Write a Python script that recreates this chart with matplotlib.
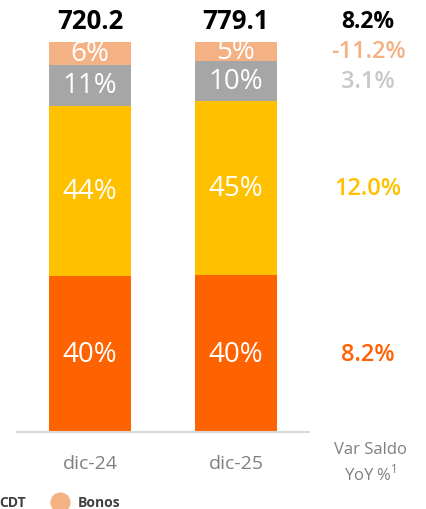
import matplotlib
matplotlib.use('Agg')
import matplotlib.pyplot as plt
from matplotlib.lines import Line2D

plt.rcParams['font.family'] = ['Open Sans', 'DejaVu Sans']
plt.rcParams['mathtext.fontset'] = 'custom'
plt.rcParams['mathtext.rm'] = 'Open Sans'

PERIODS = ['dic-24', 'dic-25']
SERIES = ['Ahorros', 'Corriente', 'CDT', 'Bonos']  # bottom -> top
COLORS = {'Ahorros': '#FF6200', 'Corriente': '#FFC000', 'CDT': '#A6A6A6', 'Bonos': '#F4B183'}
VAR_COLORS = {'Ahorros': '#FF6200', 'Corriente': '#FFC000', 'CDT': '#C8C8C8', 'Bonos': '#F4B183'}
SHARE = {  # % of total balance, per period
    'Ahorros': [40.0, 40.2],
    'Corriente': [43.6, 44.8],
    'CDT': [10.6, 10.2],
    'Bonos': [5.8, 4.8],
}
TOTALS = [720.2, 779.1]
VAR_TOTAL = 8.2
VAR = {'Ahorros': 8.2, 'Corriente': 12.0, 'CDT': 3.1, 'Bonos': -11.2}

W, H = 426, 510
fig = plt.figure(figsize=(W / 100, H / 100), dpi=100)
ax = fig.add_axes([17 / W, (H - 433) / H, 292 / W, 390 / H])

x = list(range(len(PERIODS)))
bottom = [0.0, 0.0]
for s in SERIES:
    ax.bar(x, SHARE[s], bottom=bottom, width=0.555, color=COLORS[s], zorder=2)
    for i in x:
        ax.text(i, bottom[i] + SHARE[s][i] / 2, '%d%%' % round(SHARE[s][i]),
                ha='center', va='center', color='white', fontsize=20,
                fontweight='medium', zorder=3)
    bottom = [b + v for b, v in zip(bottom, SHARE[s])]

# totals on top
for i in x:
    ax.text(i, 105.4, '%.1f' % TOTALS[i], ha='center', va='center',
            fontsize=18.5, fontweight='bold', color='black', clip_on=False)

# YoY variation column
xv = 1.905
ax.text(xv, 105.4, '%.1f%%' % VAR_TOTAL, ha='center', va='center',
        fontsize=16.5, fontweight='bold', color='black', clip_on=False)
cum = 0.0
for s in SERIES:
    mid = cum + SHARE[s][1] / 2
    cum += SHARE[s][1]
    ax.text(xv, mid, '%.1f%%' % VAR[s], ha='center', va='center',
            fontsize=17, fontweight='semibold', color=VAR_COLORS[s], clip_on=False)

ax.text(1.92, -2.4, 'Var Saldo\nYoY %$^{1}$', ha='center', va='top',
        fontsize=12, color='#808080', linespacing=1.35, clip_on=False)

ax.set_xlim(-0.5, 1.5)
ax.set_ylim(0, 100)
ax.set_xticks(x)
ax.set_xticklabels(PERIODS, fontsize=14, color='#808080')
ax.tick_params(axis='x', length=0, pad=16)
ax.set_yticks([])
for sp in ['top', 'right', 'left']:
    ax.spines[sp].set_visible(False)
ax.spines['bottom'].set_color('#D9D9D9')
ax.spines['bottom'].set_linewidth(1.5)

# legend (cut at left edge)
ly = (H - 503) / H
fig.text(26 / W, ly, 'CDT', ha='right', va='center', fontsize=10,
         fontweight='bold', color='#404040')
fig.add_artist(Line2D([60 / W], [ly], marker='o', ms=13.5, color=COLORS['Bonos'],
                      transform=fig.transFigure, lw=0))
fig.text(78 / W, ly, 'Bonos', ha='left', va='center', fontsize=10,
         fontweight='bold', color='#404040')

fig.savefig('out.png', dpi=100)
